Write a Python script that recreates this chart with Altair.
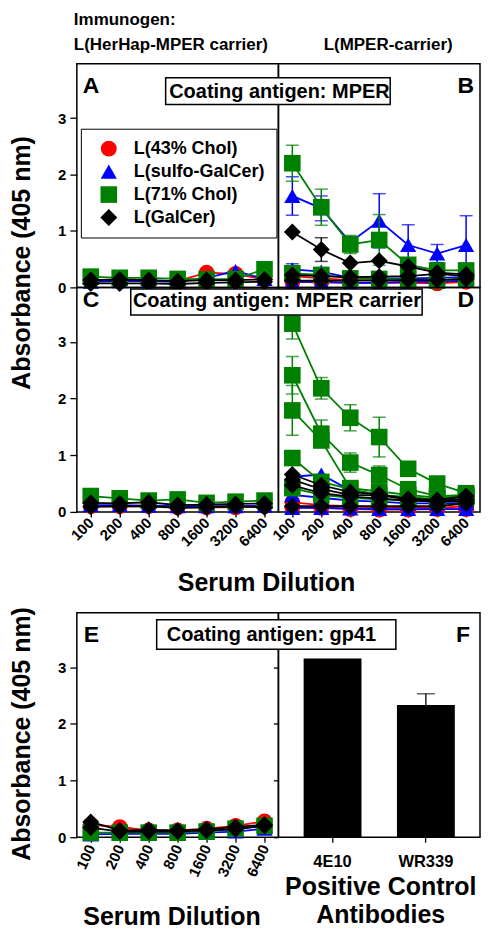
import altair as alt
import pandas as pd

FONT = "Liberation Sans"

dilutions = ["100", "200", "400", "800", "1600", "3200", "6400"]
groups = ["L(43% Chol)", "L(sulfo-GalCer)", "L(71% Chol)", "L(GalCer)"]
group_colors = ["#ff0000", "#0000ff", "#008000", "#000000"]
group_shapes = ["circle", "triangle-up", "square", "diamond"]
group_sizes = [250, 290, 225, 300]
y_ticks = [0, 1, 2, 3]

# Panel A: immunogen L(HerHap-MPER carrier), coating antigen MPER
A_red = [0.12, 0.12, 0.12, 0.11, 0.26, 0.24, 0.14]
A_blue = [0.10, 0.11, 0.11, 0.10, 0.17, 0.29, 0.15]
A_green = [0.19, 0.17, 0.17, 0.15, 0.14, 0.15, 0.32]
A_black_1 = [0.13, 0.14, 0.13, 0.11, 0.13, 0.13, 0.14]
A_black_2 = [0.07, 0.07, 0.07, 0.06, 0.08, 0.09, 0.10]

# Panel B: immunogen L(MPER-carrier), coating antigen MPER
B_red_1 = [0.20, 0.16, 0.13, 0.13, 0.12, 0.08, 0.14]
B_red_2 = [0.10, 0.09, 0.08, 0.08, 0.08, 0.07, 0.10]
B_blue_1 = [1.62, 1.40, 0.80, 1.18, 0.75, 0.60, 0.75]
B_blue_1_err = [0.34, 0.22, 0.10, 0.48, 0.36, 0.16, 0.52]
B_blue_2 = [0.32, 0.28, 0.17, 0.16, 0.16, 0.17, 0.18]
B_blue_2_err = [0.10, 0.07, 0.0, 0.0, 0.0, 0.0, 0.0]
B_blue_3 = [0.10, 0.10, 0.08, 0.08, 0.10, 0.10, 0.12]
B_green_1 = [2.20, 1.42, 0.76, 0.84, 0.40, 0.30, 0.30]
B_green_1_err = [0.32, 0.32, 0.16, 0.45, 0.10, 0.08, 0.08]
B_green_2 = [0.25, 0.22, 0.16, 0.15, 0.14, 0.12, 0.16]
B_black_1 = [0.98, 0.67, 0.43, 0.47, 0.37, 0.26, 0.23]
B_black_1_err = [0.0, 0.21, 0.0, 0.0, 0.0, 0.0, 0.0]
B_black_2 = [0.22, 0.20, 0.18, 0.19, 0.20, 0.24, 0.20]
B_black_3 = [0.12, 0.12, 0.12, 0.12, 0.13, 0.13, 0.15]

# Panel C: immunogen L(HerHap-MPER carrier), coating antigen MPER carrier
C_red = [0.10, 0.10, 0.10, 0.08, 0.08, 0.08, 0.10]
C_blue = [0.12, 0.12, 0.11, 0.10, 0.10, 0.10, 0.11]
C_green = [0.28, 0.24, 0.20, 0.22, 0.16, 0.18, 0.20]
C_black_1 = [0.16, 0.15, 0.17, 0.12, 0.13, 0.14, 0.15]
C_black_2 = [0.09, 0.10, 0.10, 0.07, 0.08, 0.10, 0.08]

# Panel D: immunogen L(MPER-carrier), coating antigen MPER carrier
D_red_1 = [0.17, 0.12, 0.10, 0.08, 0.07, 0.07, 0.10]
D_red_2 = [0.08, 0.07, 0.05, 0.04, 0.04, 0.05, 0.05]
D_blue_1 = [0.62, 0.66, 0.38, 0.30, 0.25, 0.21, 0.20]
D_blue_2 = [0.30, 0.25, 0.20, 0.18, 0.15, 0.15, 0.15]
D_blue_3 = [0.07, 0.07, 0.06, 0.05, 0.05, 0.05, 0.05]
D_green_1 = [3.32, 2.18, 1.66, 1.32, 0.76, 0.50, 0.33]
D_green_1_err = [0.27, 0.19, 0.23, 0.35, 0.06, 0.05, 0.04]
D_green_2 = [2.41, 1.38, 0.87, 0.65, 0.40, 0.28, 0.30]
D_green_2_err = [0.33, 0.24, 0.17, 0.16, 0.05, 0.04, 0.04]
D_green_3 = [1.79, 1.26, 0.42, 0.36, 0.30, 0.25, 0.28]
D_green_3_err = [0.44, 0.12, 0.05, 0.05, 0.04, 0.03, 0.03]
D_green_4 = [0.95, 0.53, 0.40, 0.30, 0.26, 0.22, 0.28]
D_green_4_err = [0.10, 0.06, 0.04, 0.04, 0.03, 0.03, 0.03]
D_green_5 = [0.42, 0.30, 0.25, 0.22, 0.20, 0.20, 0.25]
D_black_1 = [0.66, 0.47, 0.35, 0.31, 0.23, 0.21, 0.28]
D_black_2 = [0.57, 0.40, 0.30, 0.29, 0.22, 0.20, 0.22]
D_black_3 = [0.47, 0.33, 0.27, 0.24, 0.20, 0.18, 0.18]
D_black_4 = [0.10, 0.10, 0.10, 0.10, 0.10, 0.10, 0.15]

# Panel E: coating antigen gp41
E_red = [0.22, 0.18, 0.12, 0.12, 0.15, 0.20, 0.28]
E_blue = [0.05, 0.06, 0.06, 0.06, 0.08, 0.10, 0.15]
E_green = [0.08, 0.08, 0.08, 0.08, 0.10, 0.15, 0.20]
E_black_1 = [0.27, 0.12, 0.13, 0.12, 0.14, 0.18, 0.22]
E_black_2 = [0.17, 0.10, 0.10, 0.10, 0.12, 0.14, 0.20]

# Panel F: positive control antibodies
antibodies = ["4E10", "WR339"]
F_values = [3.15, 2.33]
F_err = [0.0, 0.20]

coating_labels = ["Coating antigen: MPER", "Coating antigen: MPER carrier",
                  "Coating antigen: gp41"]
immunogen_labels = ["Immunogen:", "L(HerHap-MPER carrier)", "L(MPER-carrier)"]

RED, BLUE, GREEN, BLACK = groups
series_list = [
    ("A", RED, A_red, None), ("A", BLUE, A_blue, None), ("A", GREEN, A_green, None),
    ("A", BLACK, A_black_1, None), ("A", BLACK, A_black_2, None),
    ("B", RED, B_red_1, None), ("B", RED, B_red_2, None),
    ("B", BLUE, B_blue_1, B_blue_1_err), ("B", BLUE, B_blue_2, B_blue_2_err),
    ("B", BLUE, B_blue_3, None),
    ("B", GREEN, B_green_1, B_green_1_err), ("B", GREEN, B_green_2, None),
    ("B", BLACK, B_black_1, B_black_1_err), ("B", BLACK, B_black_2, None),
    ("B", BLACK, B_black_3, None),
    ("C", RED, C_red, None), ("C", BLUE, C_blue, None), ("C", GREEN, C_green, None),
    ("C", BLACK, C_black_1, None), ("C", BLACK, C_black_2, None),
    ("D", RED, D_red_1, None), ("D", RED, D_red_2, None),
    ("D", BLUE, D_blue_1, None), ("D", BLUE, D_blue_2, None), ("D", BLUE, D_blue_3, None),
    ("D", GREEN, D_green_1, D_green_1_err), ("D", GREEN, D_green_2, D_green_2_err),
    ("D", GREEN, D_green_3, D_green_3_err), ("D", GREEN, D_green_4, D_green_4_err),
    ("D", GREEN, D_green_5, None),
    ("D", BLACK, D_black_1, None), ("D", BLACK, D_black_2, None),
    ("D", BLACK, D_black_3, None), ("D", BLACK, D_black_4, None),
    ("E", RED, E_red, None), ("E", BLUE, E_blue, None), ("E", GREEN, E_green, None),
    ("E", BLACK, E_black_1, None), ("E", BLACK, E_black_2, None),
]

rows = []
for k, (panel, grp, vals, errs) in enumerate(series_list):
    for i, dil in enumerate(dilutions):
        e = errs[i] if errs else 0.0
        rows.append(dict(panel=panel, group=grp, series=f"s{k}", dil=dil, idx=i,
                         value=vals[i], err=e, lo=vals[i] - e, hi=vals[i] + e))
df = pd.DataFrame(rows)

color_scale = alt.Scale(domain=groups, range=group_colors)
shape_scale = alt.Scale(domain=groups, range=group_shapes)
size_scale = alt.Scale(domain=groups, range=group_sizes)
y_scale = alt.Scale(domain=[0, 3.96], nice=False)

legend_spec = alt.Legend(
    title=None, orient="none", legendX=72, legendY=118,
    strokeColor="black", fillColor="white", padding=11, rowPadding=5,
    symbolSize=260, symbolOffset=8, labelOffset=16, symbolStrokeWidth=0,
    labelFont=FONT, labelFontSize=18, labelFontWeight="bold", labelColor="black",
)


def text_layer(label, x, y, size, align="left", baseline="alphabetic"):
    return alt.Chart(pd.DataFrame({"t": [label]})).mark_text(
        align=align, baseline=baseline, fontSize=size, fontWeight="bold",
        font=FONT, color="black",
    ).encode(text="t:N", x=alt.value(x), y=alt.value(y))


def spacer(w, h, layers=None):
    if not layers:
        layers = [text_layer("", 1, 1, 1, "left", "top")]
    return alt.layer(*layers).properties(
        width=w, height=h, view=alt.ViewBackground(stroke="transparent"))


def line_panel(p, w, h, x_axis, y_axis, letter, lx, ly, lalign):
    d = df[df["panel"] == p]
    x = alt.X("dil:O", sort=dilutions,
              scale=alt.Scale(type="point", domain=dilutions, padding=0.48),
              axis=x_axis)
    layers = []
    for gi, g in enumerate(groups):
        dg = d[d["group"] == g]
        if dg.empty:
            continue
        col = alt.value(group_colors[gi])
        base = alt.Chart(dg)
        layers.append(base.mark_line(strokeWidth=1.8).encode(
            x=x, y=alt.Y("value:Q", scale=y_scale, axis=y_axis),
            color=col, detail="series:N", order="idx:Q"))
        de = dg[dg["err"] > 0]
        if not de.empty:
            eb = alt.Chart(de)
            layers.append(eb.mark_rule(strokeWidth=1.5).encode(
                x=x, y=alt.Y("lo:Q", scale=y_scale, axis=y_axis), y2="hi:Q", color=col))
            for fld in ["hi", "lo"]:
                layers.append(eb.mark_tick(size=13, thickness=1.5).encode(
                    x=x, y=alt.Y(f"{fld}:Q", scale=y_scale, axis=y_axis), color=col))
        layers.append(base.mark_point(filled=True, opacity=1, strokeWidth=0).encode(
            x=x, y=alt.Y("value:Q", scale=y_scale, axis=y_axis),
            color=alt.Color("group:N", scale=color_scale, legend=legend_spec),
            shape=alt.Shape("group:N", scale=shape_scale, legend=legend_spec),
            size=alt.Size("group:N", scale=size_scale, legend=None)))
    layers.append(text_layer(letter, lx, ly, 23, lalign))
    return alt.layer(*layers).properties(width=w, height=h)


def y_axis(title=None, title_y=0):
    if title:
        return alt.Axis(values=y_ticks, tickSize=7, labelPadding=4, title=title,
                        titleX=-47, titleY=title_y, titleAngle=270, titleAlign="center",
                        titleBaseline="alphabetic", titleFontSize=25)
    return alt.Axis(values=y_ticks, tickSize=7, labelPadding=4, title=None)


def x_axis(angle, title=None, tx=0, ty=0):
    if title:
        return alt.Axis(labelAngle=angle, labelAlign="right", labelBaseline="middle",
                        tickSize=5, labelPadding=3, title=title, titleX=tx, titleY=ty,
                        titleAlign="center", titleBaseline="alphabetic", titleFontSize=25)
    return alt.Axis(labelAngle=angle, labelAlign="right", labelBaseline="middle",
                    tickSize=5, labelPadding=3, title=None)


W, H1, H2 = 202, 224, 225

panel_A = line_panel("A", W, H1, None, y_axis("Absorbance (405 nm)", 199),
                     "A", 6, 29, "left")
panel_B = line_panel("B", W, H1, None, None, "B", 196, 29, "right")
panel_C = line_panel("C", W, H2, x_axis(-45, "Serum Dilution", 189.5, 78.3), y_axis(),
                     "C", 6, 20, "left")
panel_D = line_panel("D", W, H2, x_axis(-45), None, "D", 196, 20, "right")
panel_E = line_panel("E", W, H2, x_axis(-65, "Serum Dilution", 94.8, 87.3),
                     y_axis("Absorbance (405 nm)", 121), "E", 7, 29, "left")

# Panel F bars
dfF = pd.DataFrame({"ab": antibodies, "value": F_values, "err": F_err})
dfF["hi"] = dfF["value"] + dfF["err"]
xF = alt.X("ab:N", sort=antibodies,
           scale=alt.Scale(paddingInner=0.38, paddingOuter=0.27),
           axis=alt.Axis(labelAngle=0, tickSize=5, labelPadding=11, labelFontSize=16.5,
                         title=["Positive Control", "Antibodies"], titleX=102, titleY=57.3,
                         titleAlign="center", titleBaseline="alphabetic",
                         titleFontSize=25, titleLineHeight=28.4))
yF_axis = alt.Axis(values=y_ticks, labels=False, tickSize=5, title=None)
bars = alt.Chart(dfF).mark_bar(color="black").encode(
    x=xF, y=alt.Y("value:Q", scale=y_scale, axis=yF_axis))
eF = dfF[dfF["err"] > 0]
f_rule = alt.Chart(eF).mark_rule(color="black", strokeWidth=1.3).encode(
    x=xF, y=alt.Y("value:Q", scale=y_scale, axis=yF_axis), y2="hi:Q")
f_cap = alt.Chart(eF).mark_tick(color="black", size=18, thickness=1.3).encode(
    x=xF, y=alt.Y("hi:Q", scale=y_scale, axis=yF_axis))
panel_F = alt.layer(f_rule, f_cap, bars, text_layer("F", 192, 29, 23, "right")).properties(
    width=W, height=H2)


def box_layers(label, x1, x2, y1, y2, tx, ty):
    one = pd.DataFrame({"t": [label]})
    rect = alt.Chart(one).mark_rect(fill="white", stroke="black", strokeWidth=1.5).encode(
        x=alt.value(x1), x2=alt.value(x2), y=alt.value(y1), y2=alt.value(y2))
    return [rect, text_layer(label, tx, ty, 20, "center")]


annot = spacer(68, 1,
               box_layers(coating_labels[0], 157, 382, -761, -734.3, 271, -741)
               + box_layers(coating_labels[1], 122, 414, -549.5, -523.3, 268.5, -531)
               + box_layers(coating_labels[2], 148, 387.7, -218, -188.3, 263, -196.7))

top1 = spacer(W, 53, [text_layer(immunogen_labels[0], -3, 0.7, 17, "left", "top"),
                      text_layer(immunogen_labels[1], -3, 38.7, 17)])
top2 = spacer(W, 53, [text_layer(immunogen_labels[2], 110, 38.7, 17, "center")])

cells = [
    spacer(68, 53), top1, top2,
    spacer(68, H1), panel_A, panel_B,
    spacer(68, H2), panel_C, panel_D,
    spacer(68, 101), spacer(W, 101), spacer(W, 101),
    spacer(68, H2), panel_E, panel_F,
    annot,
]

chart = alt.concat(*cells, columns=3, spacing=0, bounds="flush", align="each",
                   center=False).properties(padding=0).configure_view(
    stroke="black", strokeWidth=1.5
).configure_axis(
    labelFont=FONT, labelFontWeight="bold", labelFontSize=15, labelColor="black",
    tickColor="black", tickWidth=1.3, titleFont=FONT, titleFontWeight="bold",
    titleColor="black", grid=False, domain=False,
)

chart.save("out.html", embed_options={"renderer": "svg", "actions": False})
